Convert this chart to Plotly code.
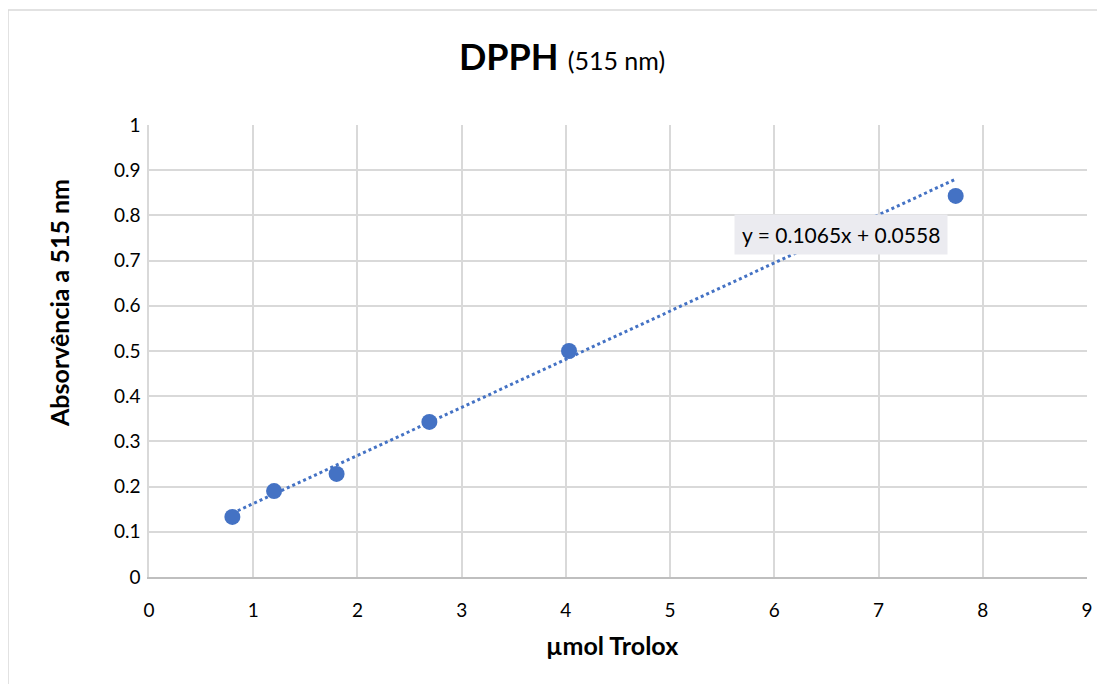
import plotly.graph_objects as go

x_vals = [0.8, 1.2, 1.8, 2.69, 4.03, 7.74]
y_vals = [0.133, 0.190, 0.228, 0.343, 0.500, 0.843]
slope = 0.1065
intercept = 0.0558
x_ticks = [0, 1, 2, 3, 4, 5, 6, 7, 8, 9]
y_ticks = [0, 0.1, 0.2, 0.3, 0.4, 0.5, 0.6, 0.7, 0.8, 0.9, 1]

blue = "#4472C4"
trend_x = [min(x_vals), max(x_vals)]
trend_y = [slope * v + intercept for v in trend_x]

fig = go.Figure()
fig.add_trace(go.Scatter(x=trend_x, y=trend_y, mode="lines",
                         line=dict(color=blue, width=3, dash="dot"),
                         showlegend=False, hoverinfo="skip"))
fig.add_trace(go.Scatter(x=x_vals, y=y_vals, mode="markers",
                         marker=dict(color=blue, size=16),
                         showlegend=False))

# the page adds an 8 px body margin, so the figure is sized to compensate
OFF = 8
W, H = 1105 - OFF, 684 - OFF
L, R, T, B = 149 - OFF, 18, 125 - OFF, 107
pw, ph = W - L - R, H - T - B


def px_x(page_x):
    return (page_x - 149) / pw


def px_y(page_y):
    return (577 - page_y) / ph


fig.update_layout(
    width=W, height=H,
    margin=dict(l=L, r=R, t=T, b=B),
    paper_bgcolor="white", plot_bgcolor="white",
    font=dict(family="Lato, Carlito, sans-serif", color="#000000", size=19),
    title=dict(text="<b>DPPH</b> <span style='font-size:25px'>(515 nm)</span>",
               x=(562 - OFF) / W, xanchor="center", y=1 - (57 - OFF) / H, yanchor="middle",
               font=dict(size=36, color="#000000")),
    xaxis=dict(range=[0, 9], tickvals=x_ticks, showgrid=True,
               gridcolor="#d9d9d9", gridwidth=1.5, zeroline=False,
               showline=True, linecolor="#bfbfbf", linewidth=1.5,
               ticks="", tickfont=dict(size=19), ticklabelstandoff=15),
    yaxis=dict(range=[0, 1], tickvals=y_ticks, showgrid=True,
               gridcolor="#d9d9d9", gridwidth=1.5, zeroline=False,
               showline=True, linecolor="#d9d9d9", linewidth=1.5,
               ticks="", tickfont=dict(size=19), ticklabelstandoff=3),
    shapes=[dict(type="rect", xref="paper", yref="paper",
                 x0=(0 - L) / pw, x1=(W + 20 - L) / pw,
                 y0=(H - 2 - B) / ph, y1=-(B + 20) / ph,
                 line=dict(color="#d9d9d9", width=1.5), fillcolor="rgba(0,0,0,0)",
                 layer="below")],
    annotations=[
        dict(text="y = 0.1065x + 0.0558", xref="paper", yref="paper",
             x=px_x(841), y=px_y(234),
             xanchor="center", yanchor="middle", showarrow=False,
             bgcolor="#ebebf0", borderpad=7,
             font=dict(size=21, color="#000000")),
        dict(text="<b>µmol Trolox</b>", xref="paper", yref="paper",
             x=px_x(612), y=px_y(645), xanchor="center", yanchor="middle",
             showarrow=False, font=dict(size=25, color="#000000")),
        dict(text="<b>Absorvência a 515 nm</b>", xref="paper", yref="paper",
             x=px_x(59), y=px_y(303), xanchor="center", yanchor="middle",
             textangle=-90, showarrow=False, font=dict(size=25, color="#000000")),
    ],
)

fig.write_html("out.html")
